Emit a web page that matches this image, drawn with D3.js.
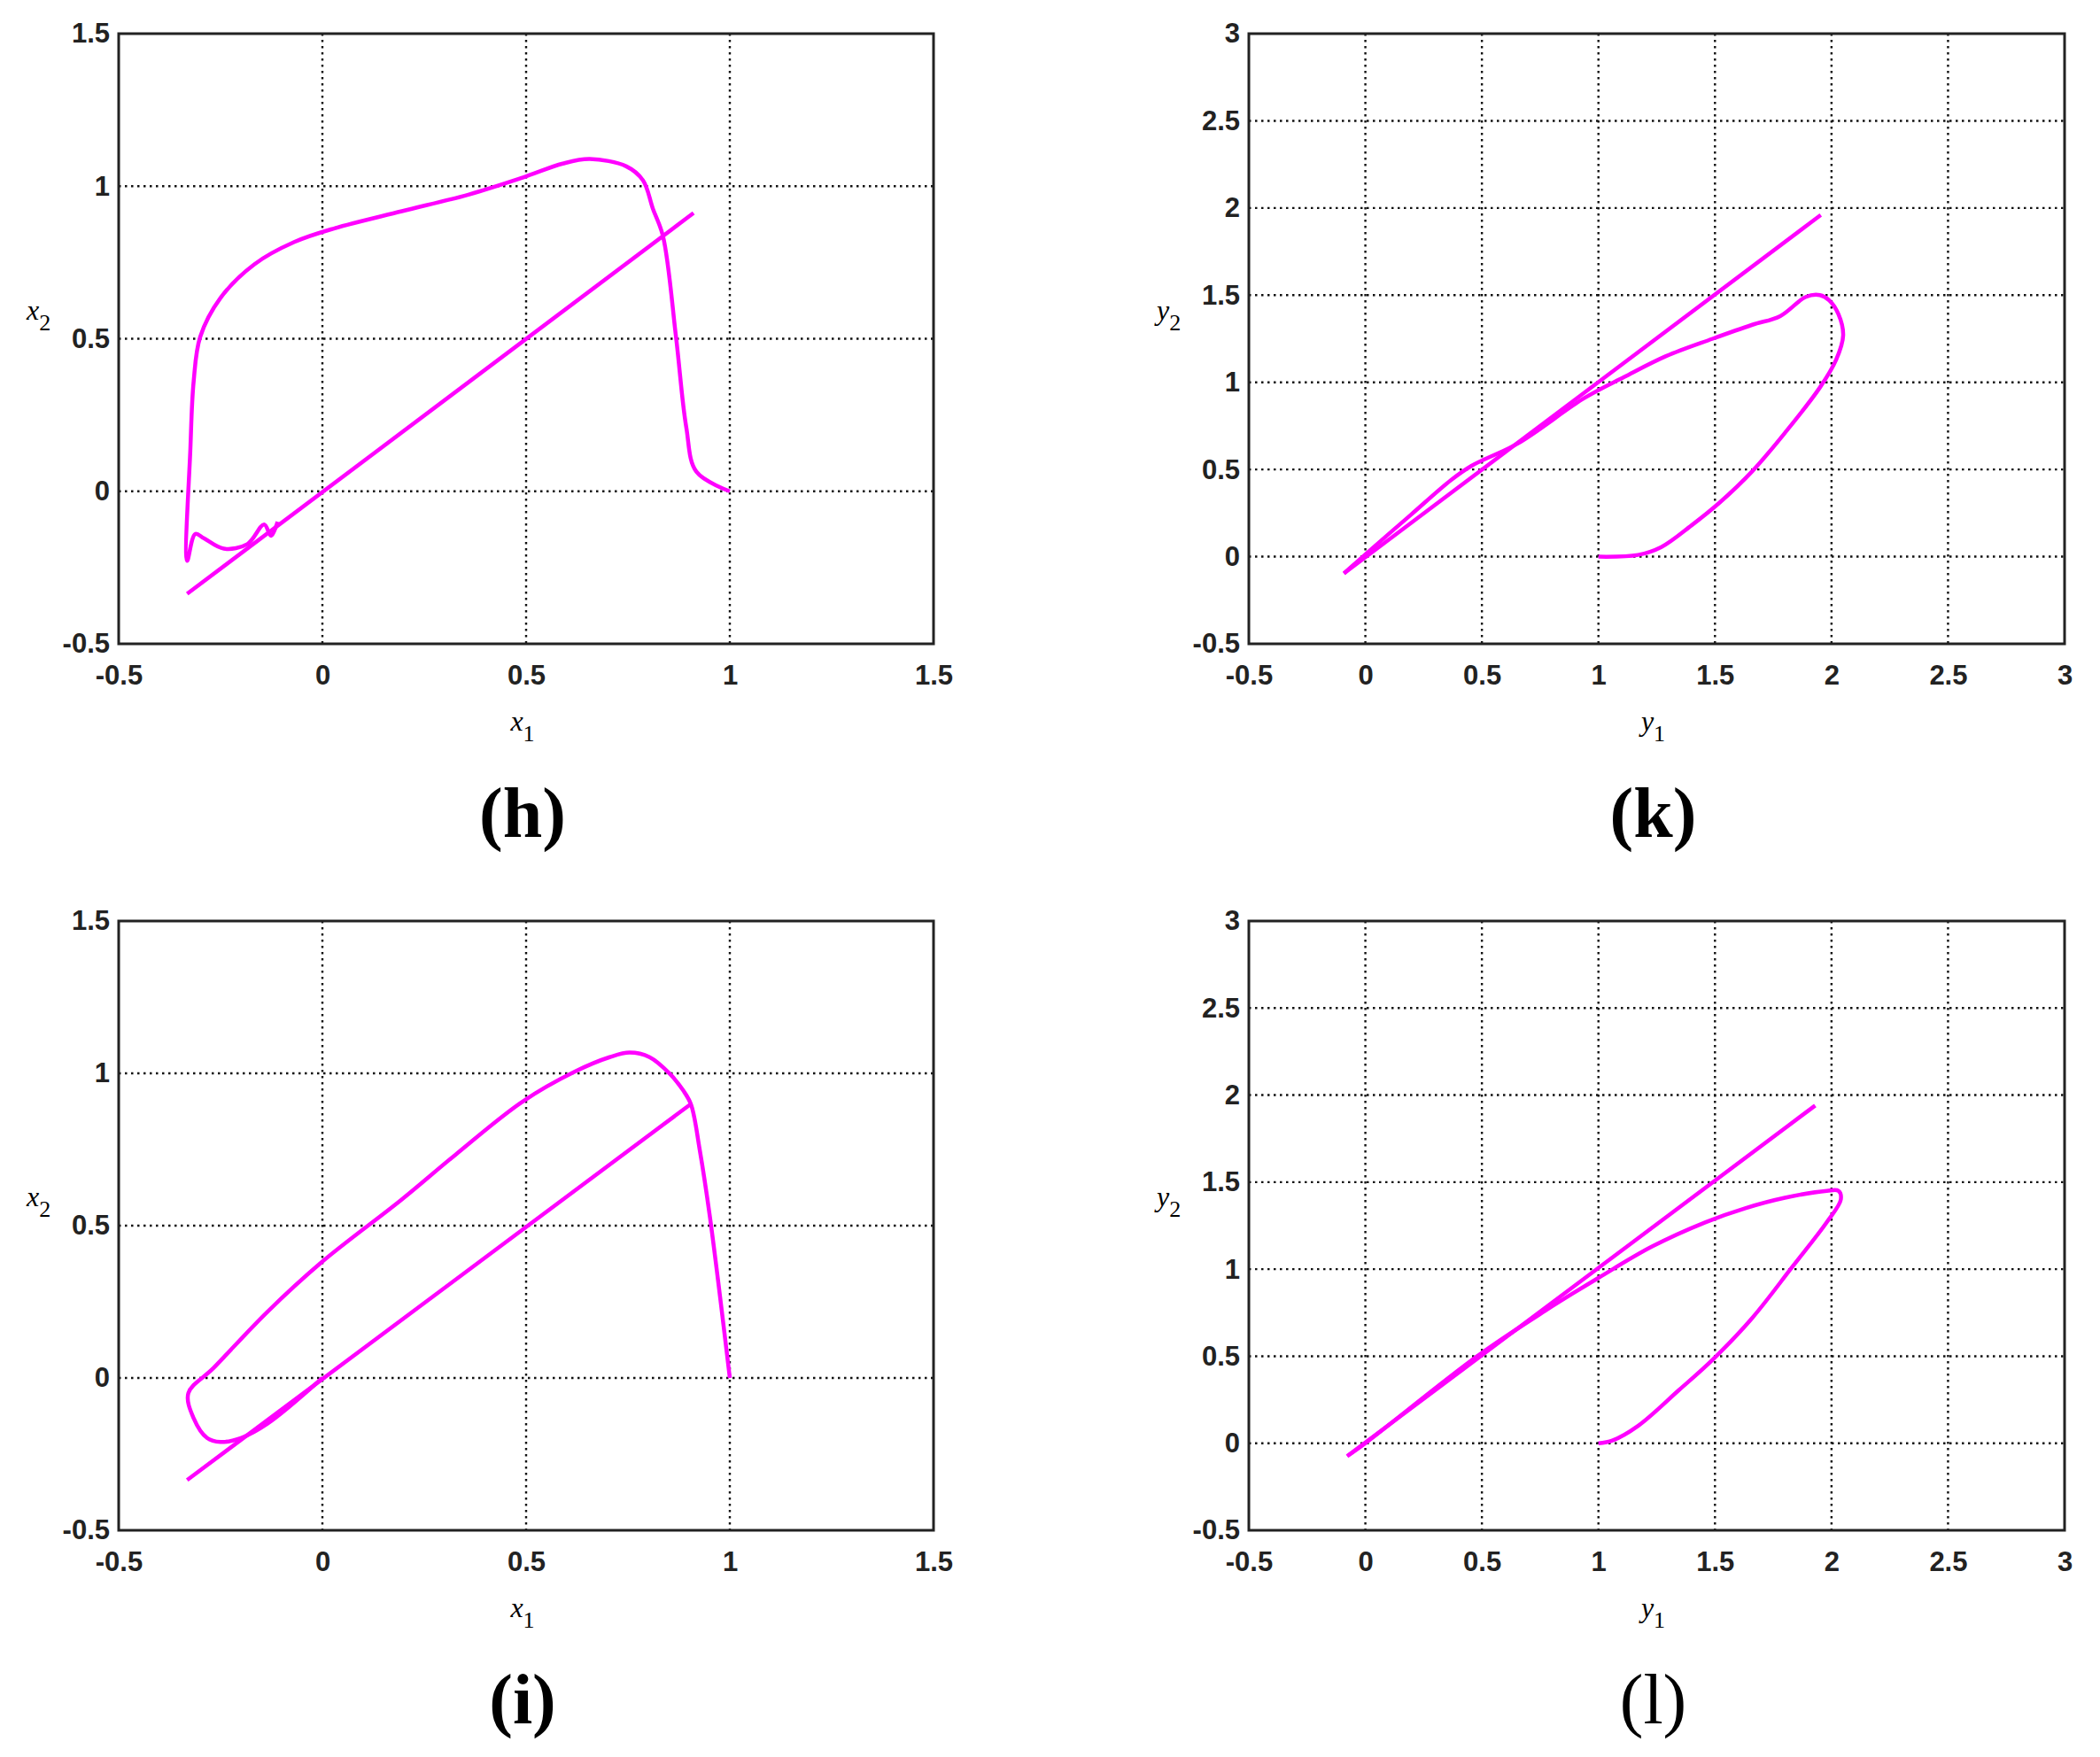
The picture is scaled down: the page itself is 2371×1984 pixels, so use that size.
<!DOCTYPE html>
<html><head><meta charset="utf-8">
<script src="https://cdn.jsdelivr.net/npm/d3@7"></script>
<style>
body{margin:0;background:#fff}
.tick text{font-family:Arial,"Liberation Sans",sans-serif;font-weight:bold;font-size:31px;fill:#222}
</style></head><body>
<svg id="c" width="2371" height="1984"></svg>
<script>
// panel h: x1 vs x2
var hLoop = [[1.0,0],[0.918,0.064],[0.893,0.211],[0.868,0.505],[0.836,0.836],[0.811,0.927],[0.787,1.019],[0.746,1.065],[0.656,1.089],[0.59,1.074],[0.491,1.028],[0.36,0.973],[0.195,0.918],[0.03,0.862],[-0.069,0.817],[-0.167,0.744],[-0.25,0.634],[-0.3,0.506],[-0.316,0.36],[-0.324,0.14],[-0.332,-0.228],[-0.312,-0.14],[-0.291,-0.154],[-0.242,-0.188],[-0.184,-0.173],[-0.143,-0.109],[-0.126,-0.146],[-0.11,-0.1]];
var hDiag = [[-0.332,-0.336],[0.911,0.912]];
// panel k: y1 vs y2
var kLoop = [[1.0,0],[1.17,0.01],[1.27,0.055],[1.40,0.18],[1.52,0.31],[1.66,0.49],[1.80,0.71],[1.95,0.97],[2.02,1.13],[2.05,1.27],[2.03,1.39],[1.99,1.47],[1.95,1.50],[1.89,1.49],[1.78,1.38],[1.66,1.33],[1.49,1.25],[1.29,1.15],[1.11,1.03],[0.94,0.91],[0.655,0.65],[0.454,0.52],[0.368,0.44],[0.195,0.24],[-0.006,0.006],[-0.092,-0.096]];
var kDiag = [[-0.092,-0.096],[1.954,1.96]];
// panel i
var iLoop = [[1.0,0],[0.951,0.53],[0.926,0.75],[0.905,0.897],[0.886,0.943],[0.853,0.998],[0.803,1.053],[0.754,1.068],[0.705,1.053],[0.622,1.007],[0.49,0.906],[0.326,0.732],[0.194,0.585],[0,0.382],[-0.135,0.217],[-0.267,0.033],[-0.329,-0.05],[-0.316,-0.132],[-0.283,-0.197],[-0.25,-0.21],[-0.2,-0.197],[-0.135,-0.15],[0,0]];
var iDiag = [[-0.332,-0.335],[0.902,0.897]];
// panel l
var lLoop = [[1.0,0],[1.06,0.016],[1.17,0.1],[1.345,0.305],[1.49,0.48],[1.66,0.72],[1.83,1.01],[1.98,1.27],[2.04,1.40],[2.03,1.45],[1.98,1.45],[1.80,1.41],[1.63,1.35],[1.46,1.27],[1.23,1.13],[1.0,0.95],[0.77,0.76],[0.48,0.50],[0,0],[-0.078,-0.074]];
var lDiag = [[-0.078,-0.074],[1.93,1.94]];

var xTicks = [-0.5,0,0.5,1,1.5], yTicksY = [-0.5,0,0.5,1,1.5,2,2.5,3];

var svg = d3.select("#c");

function panel(o){
  var x = d3.scaleLinear().domain(o.dom).range([o.l,o.r]);
  var y = d3.scaleLinear().domain(o.dom).range([o.b,o.t]);
  var g = svg.append("g");
  // grid
  g.selectAll(".gx").data(o.ticks.slice(1,-1)).enter().append("line")
    .attr("x1",d=>x(d)).attr("x2",d=>x(d)).attr("y1",o.t).attr("y2",o.b)
    .attr("stroke","#111").attr("stroke-width",2.4).attr("stroke-dasharray","2.5,4.5");
  g.selectAll(".gy").data(o.ticks.slice(1,-1)).enter().append("line")
    .attr("y1",d=>y(d)).attr("y2",d=>y(d)).attr("x1",o.l).attr("x2",o.r)
    .attr("stroke","#111").attr("stroke-width",2.4).attr("stroke-dasharray","2.5,4.5");
  var fmt = d=>String(d);
  g.append("g").attr("transform","translate(0,"+o.b+")")
    .call(d3.axisBottom(x).tickValues(o.ticks).tickFormat(fmt).tickSize(0).tickPadding(24))
    .call(a=>a.select(".domain").remove());
  g.append("g").attr("transform","translate("+o.l+",0)")
    .call(d3.axisLeft(y).tickValues(o.ticks).tickFormat(fmt).tickSize(0).tickPadding(10))
    .call(a=>a.select(".domain").remove());
  var line = d3.line().x(d=>x(d[0])).y(d=>y(d[1])).curve(d3.curveCatmullRom);
  [o.loop,o.diag].forEach(function(s){
    g.append("path").attr("d",line(s)).attr("fill","none")
      .attr("stroke","#ff00ff").attr("stroke-width",4.5).attr("stroke-linejoin","round");
  });
  g.append("rect").attr("x",o.l).attr("y",o.t).attr("width",o.r-o.l).attr("height",o.b-o.t)
    .attr("fill","none").attr("stroke","#222").attr("stroke-width",3);
  // axis labels
  var t = g.append("text").attr("x",(o.l+o.r)/2-4).attr("y",o.b+98)
    .attr("font-family","'Liberation Serif',serif").attr("font-style","italic").attr("font-size",32).attr("text-anchor","middle");
  t.append("tspan").text(o.v);
  t.append("tspan").attr("dy",12).attr("font-style","normal").attr("font-size",26).text("1");
  var t2 = g.append("text").attr("x",o.l-104).attr("y",(o.t+o.b)/2-22)
    .attr("font-family","'Liberation Serif',serif").attr("font-style","italic").attr("font-size",32);
  t2.append("tspan").text(o.v);
  t2.append("tspan").attr("dy",12).attr("font-style","normal").attr("font-size",26).text("2");
  g.append("text").attr("x",(o.l+o.r)/2-4).attr("y",o.b+218).attr("text-anchor","middle")
    .attr("font-family","'Liberation Serif',serif").attr("font-weight",o.bold?"bold":"normal").attr("font-size",80).text(o.tag);
}

panel({l:134,r:1054,t:38,b:727,dom:[-0.5,1.5],ticks:xTicks,loop:hLoop,diag:hDiag,v:"x",tag:"(h)",bold:true});
panel({l:1410,r:2331,t:38,b:727,dom:[-0.5,3],ticks:yTicksY,loop:kLoop,diag:kDiag,v:"y",tag:"(k)",bold:true});
panel({l:134,r:1054,t:1040,b:1728,dom:[-0.5,1.5],ticks:xTicks,loop:iLoop,diag:iDiag,v:"x",tag:"(i)",bold:true});
panel({l:1410,r:2331,t:1040,b:1728,dom:[-0.5,3],ticks:yTicksY,loop:lLoop,diag:lDiag,v:"y",tag:"(l)",bold:false});
</script></body></html>
